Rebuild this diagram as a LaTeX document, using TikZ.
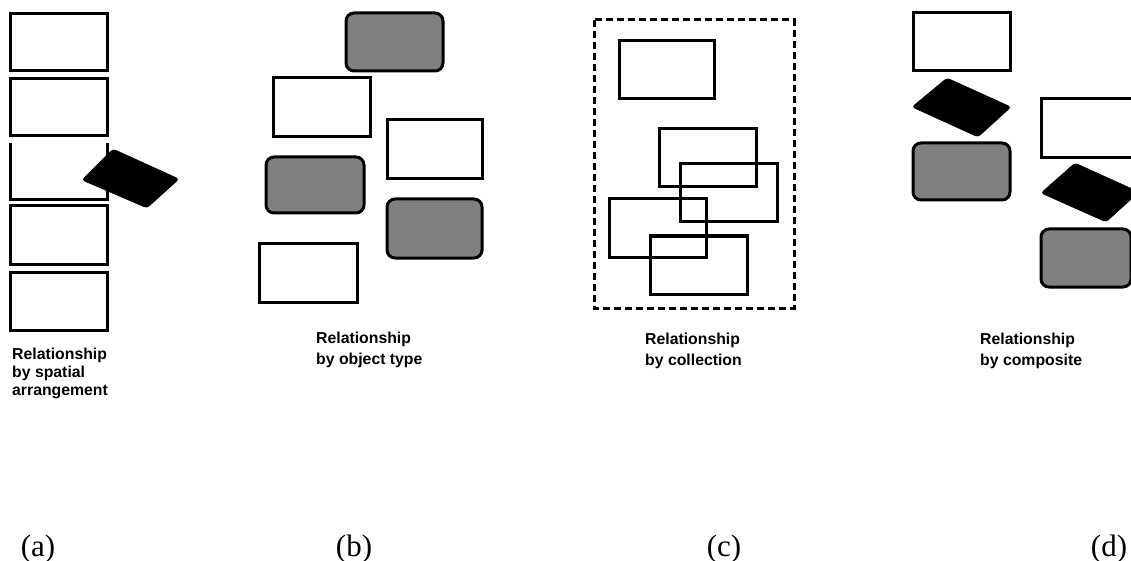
\documentclass[tikz,border=0pt]{standalone}
\usepackage{fontspec}
\newfontfamily\capfont{Liberation Sans}
\newfontfamily\labfont{Liberation Serif}
\begin{document}
\begin{tikzpicture}[x=1pt,y=-1pt,
  obj/.style={draw=black,line width=3pt,fill=white},
  grayobj/.style={draw=black,line width=3pt,fill=black!50,rounded corners=8pt},
  blob/.style={fill=black,draw=black,line width=0.5pt,rounded corners=3pt},
  coll/.style={draw=black,line width=3pt,dash pattern=on 7pt off 4pt},
  captxt/.style={anchor=north west,inner sep=0pt,align=left,font=\capfont\bfseries\fontsize{15.8}{20.5}\selectfont},
  labtxt/.style={anchor=base,inner sep=0pt,font=\labfont\fontsize{31}{36}\selectfont}]
\useasboundingbox (0,0) rectangle (1131,561);
\clip (0,0) rectangle (1131,561);
\fill[white] (0,0) rectangle (1131,561);

% (a) spatial arrangement
\draw[obj] (10,14) rectangle (107,71);
\draw[obj] (10,79) rectangle (107,136);
\draw[obj] (10,143) -- (10,200) -- (107,200) -- (107,143);
\draw[obj] (10,206) rectangle (107,264);
\draw[obj] (10,272) rectangle (107,330);
\filldraw[blob] (82,180) -- (113,149) -- (179,179) -- (147,208) -- cycle;
\node[captxt,font=\capfont\bfseries\fontsize{15.8}{18}\selectfont] (capa) at (12,348) {Relationship\\by spatial\\arrangement};

% (b) object type
\draw[grayobj] (346,13) rectangle (443,71);
\draw[obj] (273,78) rectangle (370,137);
\draw[obj] (387,120) rectangle (482,179);
\draw[grayobj] (266,157) rectangle (364,213);
\draw[grayobj] (387,199) rectangle (482,258);
\draw[obj] (259,243) rectangle (357,302);
\node[captxt] (capb) at (316,332) {Relationship\\by object type};

% (c) collection
\draw[coll] (594,20) rectangle (794,308);
\draw[obj,fill=none] (619,41) rectangle (714,99);
\draw[obj,fill=none] (659,129) rectangle (756,187);
\draw[obj,fill=none] (680,164) rectangle (777,222);
\draw[obj,fill=none] (609,199) rectangle (706,257);
\draw[obj,fill=none] (650,236) rectangle (747,294);
\node[captxt] (capc) at (645,333) {Relationship\\by collection};

% (d) composite
\draw[obj] (913,13) rectangle (1010,71);
\filldraw[blob] (912,107) -- (947,78) -- (1011,107) -- (978,137) -- cycle;
\draw[grayobj] (913,143) rectangle (1010,200);
\draw[obj] (1041,99) rectangle (1140,158);
\filldraw[blob] (1041,193) -- (1075,163) -- (1139,192) -- (1106,222) -- cycle;
\draw[grayobj] (1041,229) rectangle (1131,287);
\node[captxt] (capd) at (980,333) {Relationship\\by composite};

% panel labels
\node[labtxt] (la) at (38,556) {(a)};
\node[labtxt] (lb) at (354,556) {(b)};
\node[labtxt] (lc) at (724,556) {(c)};
\node[labtxt] (ld) at (1109,556) {(d)};
\end{tikzpicture}
\end{document}
